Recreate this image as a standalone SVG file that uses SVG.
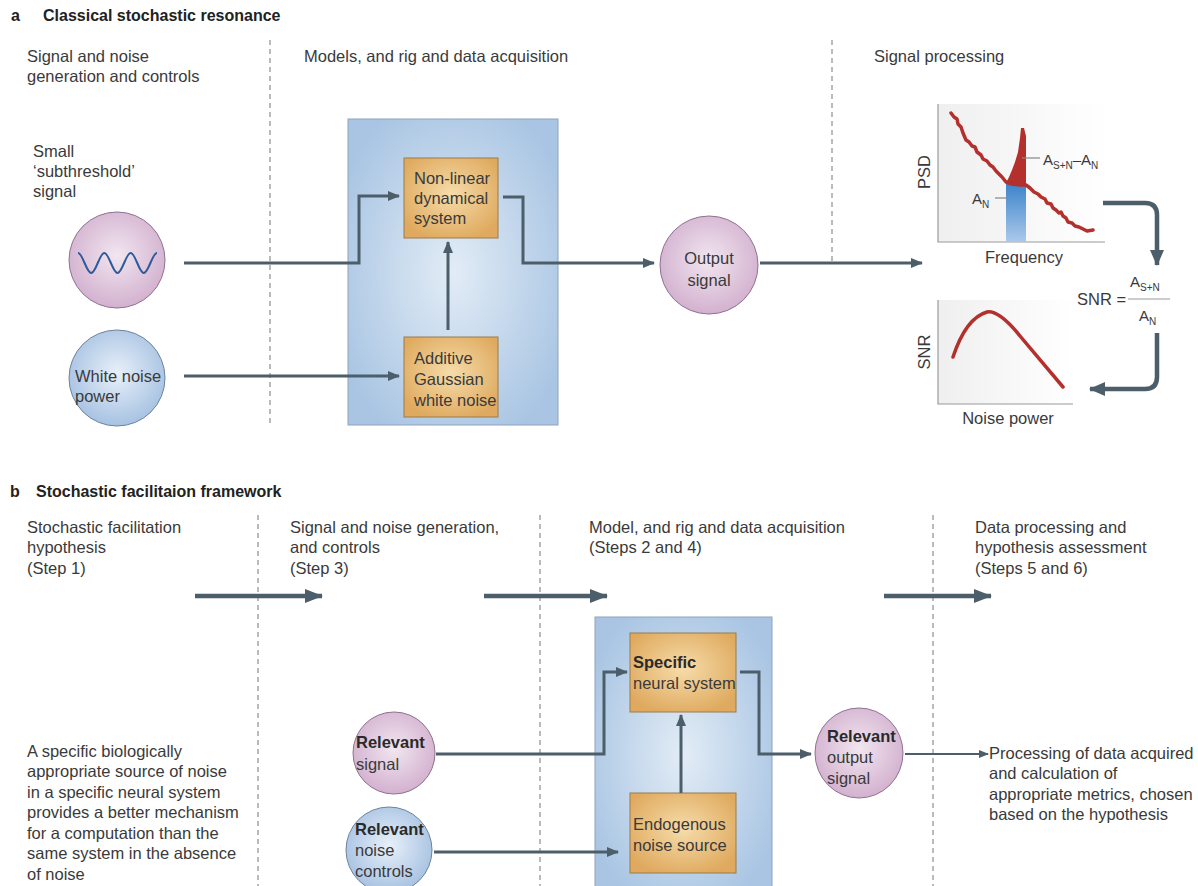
<svg xmlns="http://www.w3.org/2000/svg" width="1198" height="886" viewBox="0 0 1198 886">
<defs>
<style>
text{font-family:"Liberation Sans",Arial,sans-serif;fill:#3a3a3a}
.t{font-size:16.5px}
.h{font-size:16px;font-weight:bold;fill:#222}
.b{font-weight:bold;fill:#2a2a2a}
.sm{font-size:15px}
.dash{stroke:#777;stroke-width:1;stroke-dasharray:5 4;fill:none}
.con{stroke:#4d5e6b;stroke-width:3;fill:none}
.conb{stroke:#4d5e6b;stroke-width:4.5;fill:none}
.cont{stroke:#4d5e6b;stroke-width:2.2;fill:none}
.pink{fill:url(#gp);stroke:#8e7290;stroke-width:1}
.blue{fill:url(#gb);stroke:#6d829c;stroke-width:1}
.panel{fill:url(#gpanel);stroke:#8ea3bb;stroke-width:1}
.orange{fill:url(#go);stroke:#9a7a4c;stroke-width:1}
.axis{stroke:#9a9a9a;stroke-width:1.2;fill:none}
.red{stroke:#b3302c;stroke-width:3.5;fill:none;stroke-linejoin:round;stroke-linecap:round}
.lbl{stroke:#888;stroke-width:1.2}
</style>
<radialGradient id="gp" cx="50%" cy="45%" r="55%"><stop offset="0" stop-color="#f1e6f0"/><stop offset="1" stop-color="#d3b1cf"/></radialGradient>
<radialGradient id="gb" cx="50%" cy="45%" r="55%"><stop offset="0" stop-color="#e8f0f9"/><stop offset="1" stop-color="#a7c2e2"/></radialGradient>
<radialGradient id="gpanel" cx="50%" cy="50%" r="60%"><stop offset="0" stop-color="#e2ecf6"/><stop offset="1" stop-color="#a9c5e3"/></radialGradient>
<radialGradient id="go" cx="50%" cy="45%" r="60%"><stop offset="0" stop-color="#f6dcaa"/><stop offset="1" stop-color="#dfaa5f"/></radialGradient>
<linearGradient id="gbar" x1="0" y1="0" x2="0" y2="1"><stop offset="0" stop-color="#3d84cb"/><stop offset="1" stop-color="#acc9ea"/></linearGradient>
<linearGradient id="gchart" x1="0" y1="0" x2="1" y2="0"><stop offset="0" stop-color="#efefef"/><stop offset="1" stop-color="#ffffff"/></linearGradient>
<marker id="ah" viewBox="0 0 12 10" refX="11" refY="5" markerWidth="12" markerHeight="10" markerUnits="userSpaceOnUse" orient="auto"><path d="M0,0 L12,5 L0,10 z" fill="#4d5e6b"/></marker>
<marker id="ahb" viewBox="0 0 18 14" refX="17" refY="7" markerWidth="18" markerHeight="14" markerUnits="userSpaceOnUse" orient="auto"><path d="M0,0 L18,7 L0,14 z" fill="#4d5e6b"/></marker>
<marker id="ahc" viewBox="0 0 16 14" refX="15" refY="7" markerWidth="16" markerHeight="14" markerUnits="userSpaceOnUse" orient="auto"><path d="M0,0 L16,7 L0,14 z" fill="#4d5e6b"/></marker>
<marker id="aht" viewBox="0 0 10 8" refX="9" refY="4" markerWidth="10" markerHeight="8" markerUnits="userSpaceOnUse" orient="auto"><path d="M0,0 L10,4 L0,8 z" fill="#4d5e6b"/></marker>
</defs>
<rect width="1198" height="886" fill="#ffffff"/>

<!-- Panel a headings -->
<g id="title-a">
<text class="h" x="11" y="21">a</text>
<text class="h" x="43" y="21">Classical stochastic resonance</text>
</g>
<g id="dividers-a">
<line class="dash" x1="270" y1="40" x2="270" y2="425"/>
<line class="dash" x1="832" y1="40" x2="832" y2="265"/>
</g>
<g id="headers-a">
<text class="t" x="27" y="62">Signal and noise</text>
<text class="t" x="27" y="82">generation and controls</text>
<text class="t" x="304" y="62">Models, and rig and data acquisition</text>
<text class="t" x="874" y="62">Signal processing</text>
</g>

<!-- Panel a nodes -->
<g id="small-signal">
<text class="t" x="33" y="157">Small</text>
<text class="t" x="33" y="177">‘subthreshold’</text>
<text class="t" x="33" y="197">signal</text>
<circle class="pink" cx="117" cy="260" r="48"/>
<path d="M78,253 C82.8,253 86.4,273 91.2,273 C96,273 99.5,253 104.3,253 C109.1,253 112.7,273 117.5,273 C122.3,273 125.9,253 130.7,253 C135.5,253 139,273 143.8,273 C148.6,273 152.2,253 157,253" fill="none" stroke="#2c5a9a" stroke-width="2"/>
</g>
<g id="white-noise">
<circle class="blue" cx="117" cy="378" r="48"/>
<text class="t" x="75" y="382">White noise</text>
<text class="t" x="75" y="402">power</text>
</g>
<g id="model-box-a">
<rect class="panel" x="348" y="119" width="210" height="306"/>
</g>
<g id="nonlinear-system">
<rect class="orange" x="404" y="158" width="94" height="80"/>
<text class="t" x="414" y="184">Non-linear</text>
<text class="t" x="414" y="204">dynamical</text>
<text class="t" x="414" y="224">system</text>
</g>
<g id="additive-noise">
<rect class="orange" x="404" y="337" width="94" height="80"/>
<text class="t" x="414" y="364">Additive</text>
<text class="t" x="414" y="385">Gaussian</text>
<text class="t" x="414" y="406">white noise</text>
</g>
<g id="output-signal">
<circle class="pink" cx="709" cy="265" r="49"/>
<text class="t" x="709" y="264" text-anchor="middle">Output</text>
<text class="t" x="709" y="286" text-anchor="middle">signal</text>
</g>
<g id="psd-chart">
<rect x="938" y="104" width="167" height="138" fill="url(#gchart)"/>
<path class="axis" d="M938,104 V242 H1105"/>
<rect x="1006" y="184" width="20" height="58" fill="url(#gbar)"/>
<path d="M1006,183 L1009,177 L1012,170 L1015,162 L1018,152 L1020,138 L1021,128 L1024,128 L1026,136 L1026,186 Z" fill="#b3302c"/>
<path class="red" d="M951,113 L954,117 L957,119 L958,124 L961,127 L963,133 L966,140 L969,142 L972,146 L975,147 L977,152 L981,155 L983,159 L987,161 L990,165 L993,167 L996,171 L999,174 L1002,177 L1006,182 L1012,184 L1020,185 L1026,185 L1030,188 L1034,192 L1038,194 L1041,197 L1045,199 L1047,203 L1051,204 L1053,208 L1056,210 L1059,213 L1061,212 L1063,216 L1066,218 L1068,222 L1072,223 L1075,226 L1079,227 L1083,229 L1087,231 L1093,230"/>
<line class="lbl" x1="995" y1="198" x2="1007" y2="198"/>
<text class="sm" x="972" y="204">A<tspan font-size="10" dy="4">N</tspan></text>
<line class="lbl" x1="1022" y1="158" x2="1040" y2="158"/>
<text class="sm" x="1043" y="165">A<tspan font-size="10" dy="4">S+N</tspan><tspan dy="-4">–A</tspan><tspan font-size="10" dy="4">N</tspan></text>
<text class="t" transform="translate(930,172) rotate(-90)" text-anchor="middle">PSD</text>
<text class="t" x="1024" y="263" text-anchor="middle">Frequency</text>
</g>
<g id="snr-formula">
<text class="t" x="1077" y="305">SNR =</text>
<text class="sm" x="1130" y="287">A<tspan font-size="10" dy="4">S+N</tspan></text>
<line x1="1128" y1="299" x2="1170" y2="299" stroke="#999" stroke-width="1"/>
<text class="sm" x="1139" y="321">A<tspan font-size="10" dy="4">N</tspan></text>
</g>
<g id="snr-chart">
<rect x="938" y="300" width="135" height="104" fill="url(#gchart)"/>
<path class="axis" d="M938,300 V404 H1073"/>
<path class="red" d="M953,357 Q966,318 987,312 Q999,310 1020,336 L1063,387"/>
<text class="t" transform="translate(930,352) rotate(-90)" text-anchor="middle">SNR</text>
<text class="t" x="1008" y="424" text-anchor="middle">Noise power</text>
</g>

<!-- Panel a connectors -->
<g id="connectors-a">
<path class="con" d="M184,263 H359 V196 H399" marker-end="url(#ah)"/>
<path class="con" d="M184,376 H399" marker-end="url(#ah)"/>
<path class="con" d="M448,330 V242" marker-end="url(#ah)"/>
<path class="con" d="M503,197 H523 V263 H654" marker-end="url(#ah)"/>
<path class="con" d="M760,263 H922" marker-end="url(#ah)"/>
<path class="conb" d="M1103,203 H1145 Q1157,203 1157,215 V265" marker-end="url(#ahc)"/>
<path class="conb" d="M1157,333 V377 Q1157,389 1145,389 H1090" marker-end="url(#ahc)"/>
</g>

<!-- Panel b -->
<g id="title-b">
<text class="h" x="10" y="497">b</text>
<text class="h" x="36" y="497">Stochastic facilitaion framework</text>
</g>
<g id="dividers-b">
<line class="dash" x1="258" y1="515" x2="258" y2="886"/>
<line class="dash" x1="540" y1="515" x2="540" y2="886"/>
<line class="dash" x1="933" y1="515" x2="933" y2="886"/>
</g>
<g id="headers-b">
<text class="t" x="27" y="533">Stochastic facilitation</text>
<text class="t" x="27" y="553">hypothesis</text>
<text class="t" x="27" y="574">(Step 1)</text>
<text class="t" x="290" y="533">Signal and noise generation,</text>
<text class="t" x="290" y="553">and controls</text>
<text class="t" x="290" y="574">(Step 3)</text>
<text class="t" x="589" y="533">Model, and rig and data acquisition</text>
<text class="t" x="589" y="553">(Steps 2 and 4)</text>
<text class="t" x="975" y="533">Data processing and</text>
<text class="t" x="975" y="553">hypothesis assessment</text>
<text class="t" x="975" y="574">(Steps 5 and 6)</text>
</g>
<g id="hypothesis-text">
<text class="t" x="27" y="757">A specific biologically</text>
<text class="t" x="27" y="777">appropriate source of noise</text>
<text class="t" x="27" y="798">in a specific neural system</text>
<text class="t" x="27" y="818">provides a better mechanism</text>
<text class="t" x="27" y="839">for a computation than the</text>
<text class="t" x="27" y="859">same system in the absence</text>
<text class="t" x="27" y="880">of noise</text>
</g>
<g id="relevant-signal">
<circle class="pink" cx="394" cy="753" r="41"/>
<text class="t b" x="356" y="748">Relevant</text>
<text class="t" x="356" y="770">signal</text>
</g>
<g id="relevant-noise">
<circle class="blue" cx="389" cy="850" r="43"/>
<text class="t b" x="355" y="835">Relevant</text>
<text class="t" x="355" y="856">noise</text>
<text class="t" x="355" y="877">controls</text>
</g>
<g id="model-box-b">
<rect class="panel" x="595" y="617" width="177" height="275"/>
</g>
<g id="specific-system">
<rect class="orange" x="630" y="633" width="106" height="79"/>
<text class="t b" x="633" y="668">Specific</text>
<text class="t" x="633" y="689">neural system</text>
</g>
<g id="endogenous-noise">
<rect class="orange" x="630" y="793" width="106" height="80"/>
<text class="t" x="633" y="830">Endogenous</text>
<text class="t" x="633" y="851">noise source</text>
</g>
<g id="relevant-output">
<ellipse class="pink" cx="859" cy="753" rx="44" ry="45"/>
<text class="t b" x="827" y="742">Relevant</text>
<text class="t" x="827" y="763">output</text>
<text class="t" x="827" y="784">signal</text>
</g>
<g id="processing-text">
<text class="t" x="989" y="759">Processing of data acquired</text>
<text class="t" x="989" y="779">and calculation of</text>
<text class="t" x="989" y="800">appropriate metrics, chosen</text>
<text class="t" x="989" y="820">based on the hypothesis</text>
</g>
<g id="connectors-b">
<path class="conb" d="M195,596 H322" marker-end="url(#ahb)"/>
<path class="conb" d="M484,596 H607" marker-end="url(#ahb)"/>
<path class="conb" d="M884,596 H991" marker-end="url(#ahb)"/>
<path class="con" d="M436,754 H604 V672 H627" marker-end="url(#ah)"/>
<path class="con" d="M434,852 H618" marker-end="url(#ah)"/>
<path class="con" d="M681,793 V715" marker-end="url(#ah)"/>
<path class="con" d="M740,672 H759 V754 H811" marker-end="url(#ah)"/>
<path class="cont" d="M905,754 H988" marker-end="url(#aht)"/>
</g>
</svg>
